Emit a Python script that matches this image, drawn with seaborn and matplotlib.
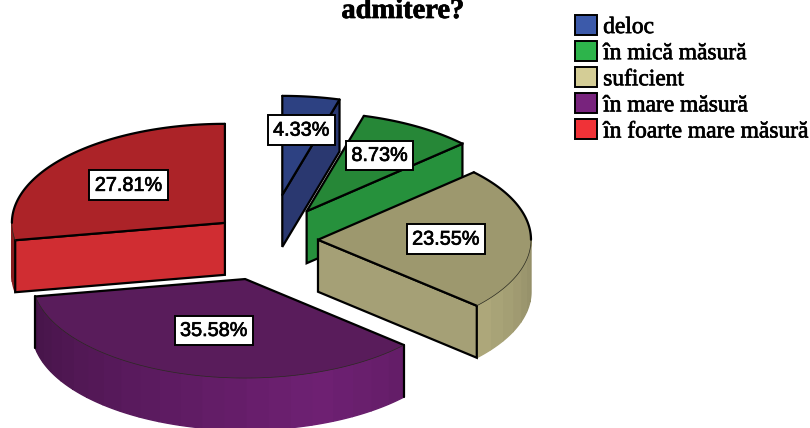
import numpy as np
import matplotlib
matplotlib.use("Agg")
import matplotlib.pyplot as plt
import matplotlib.patheffects as pe
from matplotlib.patches import Polygon, Patch
import seaborn as sns

# datos del grafico
categorias = ["deloc", "în mică măsură", "suficient", "în mare măsură", "în foarte mare măsură"]
porcentajes = [4.33, 8.73, 23.55, 35.58, 27.81]
titulo = "admitere?"

# colores: leyenda, cara superior, cara del corte
colores = ["#3c5aaa", "#2db44b", "#d4cd96", "#78237d", "#f03237"]
colores_top = ["#2d4182", "#268737", "#9d986e", "#591c5b", "#ac2328"]
colores_corte = ["#2a3870", "#26913c", "#a5a076", "#591c5b", "#d02d32"]

# geometria de la torta (en pixeles de la figura)
centro = (269, 240)
rx, ry = 213, 99
alto = 52
explode = [0.46, 0.34, 0.23, 0.41, 0.27]
radio_label = [0.66, 0.66, 0.60, 0.54, 0.59]
orden_dibujo = [0, 1, 2, 4, 3]

sns.set_theme(style="white")
fig = plt.figure(figsize=(8.1, 4.28), dpi=100)
ax = fig.add_axes([0, 0, 1, 1])
ax.set_xlim(0, 810)
ax.set_ylim(428, 0)
ax.axis("off")


def borde(a0, a1, cx, cy, dy=0):
    t = np.radians(np.linspace(a0, a1, 80))
    return np.column_stack([cx + rx * np.cos(t), cy - ry * np.sin(t) + dy])


def sombra(a):
    return max(0.55, 0.92 - 0.0034 * abs(a + 70))


# angulos de cada porcion, arranca arriba y va en sentido horario
pct = np.array(porcentajes)
fin = 90 - np.cumsum(pct) * 3.6
ini = np.r_[90, fin[:-1]]
medio = (ini + fin) / 2
base = sns.color_palette(colores)
negrita = [pe.withStroke(linewidth=0.5, foreground="black")]

etiquetas = []
for i in orden_dibujo:
    a0, a1 = ini[i], fin[i]
    m = np.radians(medio[i])
    cx = centro[0] + explode[i] * rx * np.cos(m)
    cy = centro[1] - explode[i] * ry * np.sin(m)

    # lateral curvo, solo la parte de adelante (angulos entre 0 y -180)
    desde, hasta = min(a0, 0), max(a1, -180)
    if desde > hasta:
        pasos = np.r_[np.arange(desde, hasta, -6.0), hasta]
        for p, q in zip(pasos[:-1], pasos[1:]):
            c = np.array(base[i]) * sombra((p + q) / 2)
            arriba = borde(p, q, cx, cy)
            abajo = borde(q, p, cx, cy, alto)
            ax.add_patch(Polygon(np.vstack([arriba, abajo]), closed=True, fc=c, ec=c, lw=1.0, zorder=2))

    # cara del corte (lado final, o el inicial en la porcion roja)
    a_corte = None
    if -90 < a1 < 90:
        a_corte = a1
    elif a1 < -180:
        a_corte = a0
    if a_corte is not None:
        p = borde(a_corte, a_corte, cx, cy)[0]
        ax.add_patch(Polygon([(cx, cy), p, (p[0], p[1] + alto), (cx, cy + alto)], closed=True,
                             fc=colores_corte[i], ec="black", lw=1.6, zorder=2.5))

    # cara superior
    arco = borde(a0, a1, cx, cy)
    ax.add_patch(Polygon(np.vstack([[cx, cy], arco]), closed=True, fc=colores_top[i], ec="none", zorder=3))
    ax.plot([arco[0, 0], cx, arco[-1, 0]], [arco[0, 1], cy, arco[-1, 1]], color="black", lw=1.6, zorder=4)

    # arco de atras en negro, el de adelante finito
    if a0 > 0:
        atras = borde(a0, max(a1, 0), cx, cy)
        ax.plot(atras[:, 0], atras[:, 1], color="black", lw=1.6, zorder=4)
    if a1 < 0 and a0 > -180:
        frente = borde(min(a0, 0), max(a1, -180), cx, cy)
        ax.plot(frente[:, 0], frente[:, 1], color="#2a2a20", lw=0.5, zorder=4)
    if a1 < -180:
        atras = borde(-180, a1, cx, cy)
        ax.plot(atras[:, 0], atras[:, 1], color="black", lw=1.6, zorder=4)

    # verticales de los extremos
    if i == 3:
        for a in (a0, a1):
            p = borde(a, a, cx, cy)[0]
            ax.plot([p[0], p[0]], [p[1], p[1] + alto], color="black", lw=1.6, zorder=4)

    lx = cx + radio_label[i] * rx * np.cos(m)
    ly = cy - radio_label[i] * ry * np.sin(m)
    etiquetas.append((lx, ly, f"{porcentajes[i]:.2f}%"))

for lx, ly, txt in etiquetas:
    t = ax.text(lx, ly, txt, ha="center", va="center", fontsize=14.3, family="Liberation Sans", color="black",
                bbox=dict(boxstyle="square,pad=0.27", fc="white", ec="black", lw=1.4), zorder=6)
    t.set_path_effects(negrita)

tit = ax.text(403, 18, titulo, ha="center", va="baseline", fontsize=20.5, fontweight="bold",
              family="Liberation Serif", color="black")
tit.set_path_effects(negrita)

manijas = [Patch(fc=c, ec="black", lw=1.4) for c in colores]
ley = ax.legend(handles=manijas, labels=categorias, loc="upper left", bbox_to_anchor=(575 / 810, 1 - 15 / 428),
                frameon=False, borderpad=0, borderaxespad=0, handlelength=0.93, handleheight=0.93,
                handletextpad=0.27, labelspacing=0.13, prop={"family": "Liberation Serif", "size": 16.9})
for t in ley.get_texts():
    t.set_color("black")
    t.set_path_effects(negrita)

fig.savefig("out.png", dpi=100)
